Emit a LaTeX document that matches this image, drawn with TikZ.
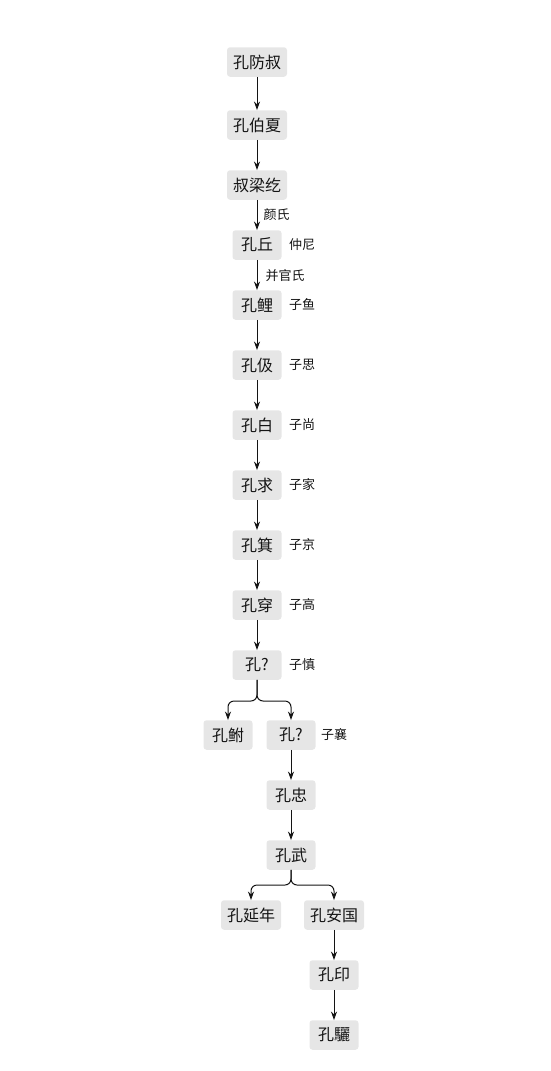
\documentclass[tikz,border=0pt]{standalone}
\usepackage{fontspec}
\setmainfont{Noto Sans CJK SC}
\usetikzlibrary{arrows.meta}
\definecolor{boxgray}{HTML}{E6E6E6}
\definecolor{ink}{HTML}{141414}
\begin{document}
\begin{tikzpicture}[x=1pt,y=-1pt,
  person/.style={fill=boxgray, rounded corners=3pt, minimum width=49pt, minimum height=29.5pt, inner xsep=6pt, inner ysep=0pt, font=\fontsize{16}{16}\selectfont, text=ink},
  alias/.style={anchor=west, font=\fontsize{13}{13}\selectfont, text=ink, inner sep=0pt},
  link/.style={-{Stealth[length=8.5pt,width=6pt]}, line width=1pt, draw=ink},
]
\useasboundingbox (0,0) rectangle (551,1071);
\node[person] (a) at (257,62) {孔防叔};
\node[person] (b) at (257,125) {孔伯夏};
\node[person] (c) at (257,185) {叔梁纥};
\node[person] (d) at (257,245) {孔丘};
\node[person] (e) at (257,305) {孔鲤};
\node[person] (f) at (257,365) {孔伋};
\node[person] (g) at (257,425) {孔白};
\node[person] (h) at (257,485) {孔求};
\node[person] (i) at (257,545) {孔箕};
\node[person] (j) at (257,605) {孔穿};
\node[person] (k) at (257,665) {孔?};
\node[person] (l1) at (228,735) {孔鲋};
\node[person] (l2) at (291,735) {孔?};
\node[person] (m) at (291,795) {孔忠};
\node[person] (n) at (291,855) {孔武};
\node[person] (o1) at (251,915) {孔延年};
\node[person] (o2) at (334,915) {孔安国};
\node[person] (p) at (334,975) {孔印};
\node[person] (q) at (334,1035) {孔驪};

\node[alias] (ad) at (289,245) {仲尼};
\node[alias] (ae) at (289,305) {子鱼};
\node[alias] (af) at (289,365) {子思};
\node[alias] (ag) at (289,425) {子尚};
\node[alias] (ah) at (289,485) {子家};
\node[alias] (ai) at (289,545) {子京};
\node[alias] (aj) at (289,605) {子高};
\node[alias] (ak) at (289,665) {子慎};
\node[alias] (al) at (321,735) {子襄};

\draw[link] (a) -- (b);
\draw[link] (b) -- (c);
\draw[link] (c) -- node[alias, anchor=west, xshift=6pt] (lc) {颜氏} (d);
\draw[link] (d) -- node[alias, anchor=west, xshift=8pt, yshift=-1pt] (ld) {并官氏} (e);
\draw[link] (e) -- (f);
\draw[link] (f) -- (g);
\draw[link] (g) -- (h);
\draw[link] (h) -- (i);
\draw[link] (i) -- (j);
\draw[link] (j) -- (k);
\coordinate (j1) at (257,701);
\draw[link, rounded corners=6pt] (k.south) -- (j1) -| (l1.north);
\draw[link, rounded corners=6pt] (k.south) -- (j1) -| (l2.north);
\draw[link] (l2) -- (m);
\draw[link] (m) -- (n);
\coordinate (j2) at (291,885);
\draw[link, rounded corners=6pt] (n.south) -- (j2) -| (o1.north);
\draw[link, rounded corners=6pt] (n.south) -- (j2) -| (o2.north);
\draw[link] (o2) -- (p);
\draw[link] (p) -- (q);
\end{tikzpicture}
\end{document}
